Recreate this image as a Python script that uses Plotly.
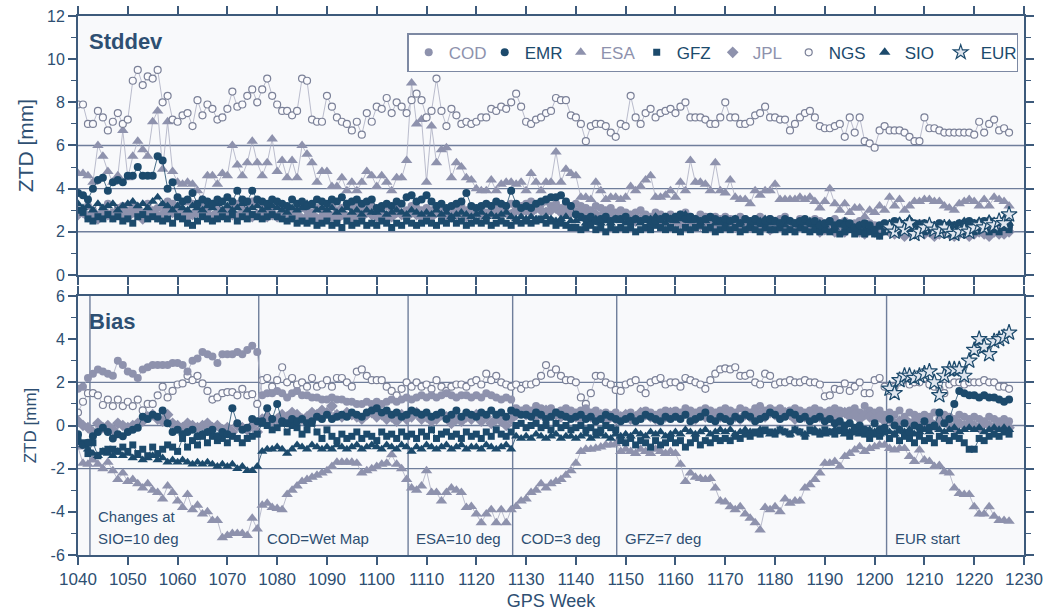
import plotly.graph_objects as go

# ---------------- data ----------------
weeks = list(range(1040, 1228))
eur_weeks = list(range(1203, 1228))
change_weeks = [1042.4, 1076.3, 1106.3, 1127.3, 1148.2, 1202.4]
change_labels = ["SIO=10 deg", "COD=Wet Map", "ESA=10 deg", "COD=3 deg", "GFZ=7 deg", "EUR start"]
std_grid = [2, 4, 6]
bias_grid = [-2, 0, 2]
x_ticks = list(range(1040, 1231, 10))
std_ticks = [0, 2, 4, 6, 8, 10, 12]
bias_ticks = [-6, -4, -2, 0, 2, 4, 6]

# ---- Stddev ----
std_ngs = [7.9,7.9,7.0,7.0,7.6,7.3,6.7,7.1,7.5,7.0,
           7.2,9.0,9.5,8.8,9.2,9.1,9.5,8.0,8.3,7.2,
           7.1,7.4,7.5,6.9,8.1,7.4,7.9,7.7,7.2,7.3,
           7.7,8.5,7.8,7.9,8.3,8.6,8.0,8.6,9.1,8.3,
           7.9,7.6,7.6,7.4,7.6,9.1,9.0,7.2,7.1,7.1,
           8.3,7.8,7.3,7.1,7.0,6.7,7.1,6.5,7.5,7.1,
           7.8,7.7,8.2,7.5,8.0,7.8,7.5,8.1,8.4,8.1,
           7.3,7.6,9.1,7.6,6.9,7.7,7.4,7.0,7.1,7.0,
           7.1,7.3,7.3,7.7,7.6,7.8,7.7,8.0,8.4,7.8,
           7.1,7.0,7.2,7.3,7.5,7.6,8.2,8.1,8.1,7.4,
           7.3,7.0,6.2,6.9,7.0,7.0,6.9,6.6,6.4,7.0,
           6.9,8.3,7.3,7.0,7.5,7.7,7.3,7.5,7.6,7.7,
           7.5,7.8,8.0,7.3,7.3,7.3,7.2,7.0,7.0,7.3,
           8.0,7.3,7.3,7.0,7.0,7.1,7.4,7.5,7.8,7.3,
           7.3,7.2,7.2,6.7,7.0,7.3,7.5,7.6,7.3,6.9,
           6.8,6.8,6.9,7.0,6.4,7.3,6.6,7.3,6.2,6.1,
           5.9,6.7,6.9,6.7,6.7,6.7,6.6,6.4,6.2,6.2,
           7.3,6.8,6.8,6.7,6.6,6.6,6.6,6.6,6.6,6.6,
           6.5,7.1,6.6,7.0,7.2,6.7,6.8,6.6]
std_esa = [4.7,4.7,4.6,4.3,6.0,5.5,4.8,4.3,4.6,6.7,
           4.5,5.5,6.2,5.8,5.5,7.1,7.6,4.9,7.1,4.8,
           4.3,4.2,4.3,4.2,3.9,3.5,4.6,4.6,4.2,4.7,
           4.6,6.0,5.1,4.6,5.2,6.2,5.2,4.6,5.2,6.3,
           4.8,5.3,4.5,5.3,4.5,6.0,5.6,5.2,4.3,4.8,
           4.8,4.1,4.1,4.5,3.9,4.3,3.9,4.3,4.8,4.6,
           4.1,4.6,4.3,3.9,4.5,4.5,5.3,8.9,7.0,7.2,
           4.3,6.9,5.2,5.8,5.9,4.5,5.2,5.0,4.5,4.4,
           4.0,3.9,3.9,4.4,3.9,4.2,4.3,4.3,4.2,4.3,
           3.9,4.7,4.3,3.9,4.3,4.3,5.7,4.3,4.9,4.7,
           4.6,3.6,3.6,3.5,4.3,3.9,3.5,3.6,3.6,3.5,
           3.6,4.1,3.9,4.1,4.4,4.6,3.6,3.6,3.7,3.9,
           3.6,4.3,3.9,5.3,4.3,4.3,4.2,3.9,5.2,3.9,
           3.8,4.4,3.6,3.5,3.5,3.3,3.9,3.7,3.9,3.9,
           4.2,3.5,3.5,3.5,3.5,3.6,3.5,3.6,3.4,3.1,
           3.4,4.0,3.3,3.0,3.3,2.9,3.1,3.1,2.7,3.0,
           2.9,3.2,3.0,3.6,3.2,3.5,3.0,3.2,3.4,3.4,
           3.5,3.5,3.4,3.4,3.2,3.1,3.0,3.3,3.4,3.5,
           3.4,3.2,3.5,3.2,3.6,3.5,3.4,3.2]
std_emr = [3.8,3.7,3.5,4.0,4.4,4.5,3.9,4.3,4.4,4.3,
           4.6,4.6,5.0,4.6,4.6,4.6,5.5,5.3,4.0,4.3,
           3.6,3.4,3.5,3.8,3.3,3.5,3.4,3.3,3.5,3.4,
           3.6,3.4,3.9,3.5,3.4,3.9,3.5,3.4,3.3,3.5,
           3.4,3.3,3.2,3.5,3.3,3.4,3.2,3.3,3.5,3.4,
           3.3,3.5,3.4,3.6,3.3,3.4,3.5,3.3,3.4,3.5,
           3.1,3.2,3.3,3.2,3.4,3.3,3.6,3.7,3.4,3.5,
           3.7,3.4,3.2,3.3,3.1,3.2,3.3,3.4,3.8,3.2,
           3.1,3.2,3.3,3.2,3.4,3.3,3.2,3.9,3.3,3.1,
           3.2,3.1,3.3,3.4,3.5,3.6,3.6,3.7,3.4,3.2,
           2.8,2.7,2.6,2.7,2.5,2.6,2.7,2.5,2.6,2.6,
           2.7,2.5,2.6,2.5,2.6,2.4,2.5,2.6,2.7,2.6,
           2.7,2.8,2.6,2.7,2.6,2.5,2.6,2.7,2.6,2.5,
           2.6,2.5,2.6,2.4,2.6,2.5,2.6,2.4,2.5,2.6,
           2.5,2.4,2.6,2.5,2.4,2.5,2.6,2.4,2.5,2.3,
           2.4,2.5,2.3,2.4,2.3,2.4,2.2,2.3,2.4,2.3,
           2.1,2.3,2.4,2.3,2.5,2.4,2.3,2.5,2.4,2.3,
           2.4,2.3,2.2,2.4,2.3,2.2,2.3,2.4,2.3,2.5,
           2.4,2.3,2.5,2.4,2.3,2.5,2.4,2.3]
std_gfz = [3.0,2.9,2.6,2.5,2.7,2.6,2.8,2.6,2.7,2.5,
           2.6,2.4,2.7,2.8,2.6,2.7,2.6,2.5,2.6,2.4,
           2.7,2.6,2.4,2.3,2.5,2.7,2.6,2.5,2.6,2.7,
           2.6,2.8,2.5,2.7,2.6,2.8,2.7,2.6,2.7,2.8,
           2.7,2.6,2.5,2.6,2.4,2.5,2.4,2.5,2.3,2.4,
           2.5,2.3,2.4,2.2,2.5,2.3,2.4,2.5,2.3,2.4,
           2.3,2.5,2.4,2.2,2.4,2.3,2.5,2.4,2.3,2.4,
           2.5,2.4,2.3,2.5,2.4,2.6,2.4,2.5,2.3,2.4,
           2.5,2.4,2.5,2.3,2.4,2.5,2.4,2.3,2.5,2.4,
           2.5,2.4,2.5,2.6,2.4,2.5,2.3,2.4,2.3,2.2,
           2.2,2.1,2.2,2.3,2.1,2.2,2.0,2.2,2.1,2.2,
           2.1,2.2,2.0,2.1,2.2,2.1,2.3,2.2,2.1,2.2,
           2.1,2.0,2.2,2.1,2.2,2.3,2.1,2.2,2.0,2.1,
           2.2,2.1,2.2,2.0,2.1,2.2,2.1,2.0,2.2,2.1,
           2.1,2.2,2.0,2.1,2.0,2.2,2.1,2.0,2.1,2.0,
           2.1,2.0,2.1,1.9,2.0,2.1,1.9,2.0,1.9,2.0,
           1.9,1.8,2.0,2.1,2.2,2.0,2.1,2.2,2.0,2.1,
           2.0,2.1,2.2,2.0,2.1,1.9,2.0,2.1,2.0,2.1,
           2.0,2.1,2.2,2.0,2.1,2.0,2.2,2.1]
std_sio = [3.3,3.1,3.2,3.0,3.3,3.1,3.2,3.3,3.0,3.2,
           3.3,3.4,3.2,3.3,3.1,3.4,3.6,3.3,3.2,3.0,
           3.2,3.1,3.0,3.2,3.1,3.0,3.2,3.1,3.3,3.0,
           3.2,3.0,3.1,3.3,3.0,3.1,3.2,3.0,3.1,3.2,
           3.1,3.0,2.9,3.1,3.0,3.1,3.3,3.2,3.0,3.1,
           3.0,3.1,2.9,3.0,3.1,2.9,3.0,2.8,3.0,2.9,
           2.9,3.0,2.8,2.9,3.0,2.9,2.8,3.0,2.9,2.8,
           2.9,2.8,3.0,2.8,2.9,2.7,2.8,2.9,2.8,2.7,
           2.8,2.9,2.7,2.8,2.7,2.8,2.9,2.7,2.6,2.7,
           2.6,2.7,2.6,2.5,2.7,2.6,2.5,2.6,2.7,2.5,
           2.5,2.6,2.4,2.5,2.6,2.4,2.5,2.4,2.6,2.5,
           2.4,2.5,2.6,2.4,2.5,2.6,2.7,2.5,2.4,2.6,
           2.5,2.6,2.8,2.5,2.6,2.4,2.5,2.6,2.4,2.5,
           2.4,2.5,2.6,2.4,2.5,2.3,2.4,2.5,2.6,2.4,
           2.5,2.4,2.3,2.5,2.4,2.3,2.4,2.5,2.3,2.4,
           2.3,2.4,2.2,2.3,2.5,2.3,2.2,2.3,2.1,2.2,
           2.0,2.2,2.3,2.4,2.3,2.5,2.4,2.6,2.3,2.4,
           2.3,2.4,2.3,2.2,2.3,2.4,2.3,2.4,2.5,2.3,
           2.4,2.5,2.4,2.6,2.4,2.5,2.6,2.4]
std_cod = [3.0,2.9,3.2,3.0,2.8,3.1,3.3,2.9,3.1,3.2,
           3.0,3.2,3.1,2.9,3.3,3.0,3.1,3.2,3.4,3.3,
           3.2,3.0,3.4,3.3,3.1,3.2,3.0,3.3,3.1,3.0,
           3.1,3.2,3.3,3.2,3.1,3.4,3.3,3.2,3.0,3.1,
           3.2,3.0,3.1,2.9,3.0,3.1,3.0,2.9,3.1,3.0,
           3.1,3.2,3.0,3.1,3.3,3.1,3.2,3.0,3.1,3.2,
           3.0,3.1,3.2,3.0,3.1,2.9,3.0,3.2,3.1,3.0,
           3.1,3.0,3.2,3.1,3.0,2.9,3.1,3.2,3.0,3.1,
           3.0,3.1,2.9,3.2,3.1,3.0,3.2,3.3,3.1,3.2,
           3.3,3.4,3.2,3.3,3.4,3.2,3.3,3.1,3.3,3.2,
           3.3,3.2,3.1,3.0,3.2,3.1,3.0,3.1,2.9,3.0,
           2.9,2.8,2.9,3.0,2.8,2.7,2.9,2.8,2.7,2.8,
           2.7,2.8,2.9,2.7,2.6,2.8,2.7,2.6,2.7,2.6,
           2.7,2.6,2.5,2.7,2.6,2.5,2.6,2.7,2.5,2.6,
           2.5,2.6,2.7,2.5,2.4,2.6,2.5,2.4,2.6,2.5,
           2.4,2.5,2.6,2.4,2.5,2.3,2.4,2.5,2.3,2.4,
           2.3,2.2,2.4,2.3,2.2,2.4,2.3,2.2,2.3,2.4,
           2.3,2.2,2.3,2.4,2.2,2.3,2.2,2.3,2.4,2.2,
           2.3,2.2,2.3,2.2,2.1,2.3,2.2,2.2]
std_jpl = [2.8,2.9,2.7,2.8,2.6,2.9,2.8,2.7,2.9,2.8,
           2.7,2.9,2.8,2.6,2.8,2.9,2.7,2.8,3.0,2.9,
           2.8,2.9,2.7,2.8,2.9,3.0,2.8,2.7,2.9,2.8,
           2.9,2.8,2.7,2.9,2.8,2.7,2.8,2.9,2.7,2.8,
           2.7,2.8,2.9,2.7,2.8,2.6,2.7,2.8,2.6,2.7,
           2.8,2.7,2.6,2.8,2.7,2.6,2.8,2.7,2.9,2.8,
           2.7,2.8,2.6,2.7,2.9,2.8,2.7,2.9,2.8,2.7,
           2.8,2.7,2.9,2.8,2.6,2.7,2.8,2.9,2.7,2.8,
           2.9,2.8,2.7,2.9,3.0,2.8,2.9,2.8,3.0,2.9,
           3.0,2.9,3.1,3.0,2.9,3.0,3.1,2.9,3.0,2.9,
           2.9,3.0,2.8,2.9,2.8,2.7,2.9,2.8,2.7,2.8,
           2.6,2.7,2.5,2.6,2.7,2.5,2.6,2.4,2.5,2.6,
           2.5,2.4,2.6,2.5,2.4,2.3,2.5,2.4,2.3,2.4,
           2.3,2.4,2.2,2.3,2.4,2.2,2.3,2.2,2.3,2.1,
           2.2,2.3,2.1,2.2,2.1,2.3,2.2,2.1,2.2,2.0,
           2.1,2.2,2.0,2.1,2.0,2.2,2.1,2.0,1.9,2.1,
           2.0,1.9,2.1,2.0,1.9,2.0,1.8,2.0,1.9,2.0,
           1.9,2.0,1.8,1.9,2.0,1.9,1.8,1.9,2.0,1.8,
           1.9,2.0,1.9,1.8,2.0,1.9,1.9,2.0]
std_eur = [2.2,2.0,2.3,2.1,2.4,1.9,2.0,2.2,2.3,2.1,
           2.0,2.2,2.0,1.9,2.0,2.1,2.0,2.2,2.3,2.2,
           2.4,2.3,2.5,2.4,2.8]

# ---- Bias ----
bias_ngs = [0.6,1.1,1.5,1.5,1.4,0.95,1.2,0.9,1.2,0.9,
            1.1,0.9,1.2,0.7,1.0,1.0,1.4,1.8,1.3,1.6,
            1.9,1.95,2.3,2.1,2.3,1.95,1.6,1.2,1.3,1.5,
            1.55,1.55,1.4,1.7,1.4,1.45,1.0,2.1,2.2,1.8,
            2.1,2.7,2.0,2.2,1.9,2.0,1.8,2.2,1.8,1.9,
            2.1,1.8,2.2,2.2,2.0,1.8,2.5,2.6,2.3,2.1,
            2.1,2.1,1.8,1.6,1.4,1.7,2.0,1.8,2.0,1.8,
            1.9,1.7,2.1,1.8,1.6,1.8,1.9,1.9,1.8,2.0,
            2.1,1.9,2.4,2.1,2.3,2.0,1.9,1.8,1.9,1.7,
            1.9,1.9,2.0,2.3,2.8,2.4,2.6,2.3,2.1,2.1,
            2.0,1.3,1.0,1.5,2.3,2.3,2.0,1.9,1.65,1.6,
            1.9,2.0,2.1,1.7,1.5,2.0,2.1,2.2,1.9,2.0,
            2.0,1.8,2.2,2.1,2.0,1.9,1.7,2.1,2.4,2.6,
            2.65,2.6,2.7,2.3,2.3,2.4,2.0,1.9,2.4,2.3,
            1.9,2.0,2.0,2.1,2.0,2.0,2.1,2.0,2.0,1.9,
            1.35,1.4,1.7,1.65,1.95,1.6,1.8,2.0,1.5,1.5,
            2.1,2.2,1.8,1.6,1.8,2.0,2.1,1.9,2.0,2.0,
            2.2,1.9,1.8,1.7,1.5,1.9,2.0,2.0,1.9,2.0,
            2.0,2.0,2.1,2.0,2.0,1.8,1.8,1.7]
bias_esa = [-1.0,-1.75,-1.8,-1.6,-1.8,-2.0,-1.7,-2.1,-2.5,-2.2,
            -2.6,-2.5,-2.7,-2.9,-2.7,-3.0,-3.1,-3.4,-2.8,-3.1,
            -3.5,-3.8,-3.2,-3.9,-3.7,-4.1,-4.0,-4.4,-4.4,-5.2,
            -5.1,-5.0,-5.0,-5.0,-5.1,-4.3,-4.8,-3.7,-3.6,-3.8,
            -3.85,-3.9,-3.2,-3.0,-2.8,-2.6,-2.5,-2.4,-2.3,-2.2,
            -2.1,-1.9,-1.7,-1.7,-1.7,-1.7,-1.75,-2.2,-2.1,-2.0,
            -1.9,-1.8,-1.75,-1.36,-1.8,-2.0,-2.5,-2.9,-3.0,-2.8,
            -2.1,-3.1,-3.1,-3.5,-3.1,-2.9,-3.0,-3.1,-3.8,-3.75,
            -4.1,-4.5,-4.1,-3.9,-4.5,-3.9,-4.5,-3.9,-3.75,-3.5,
            -3.4,-3.1,-3.0,-2.7,-2.9,-2.7,-2.6,-2.5,-2.3,-2.1,
            -1.75,-1.2,-1.1,-1.1,-1.05,-1.0,-0.9,-0.9,-0.85,-1.2,
            -1.1,-1.2,-1.3,-1.1,-1.2,-1.3,-1.1,-1.2,-1.3,-1.2,
            -1.3,-1.8,-2.6,-2.2,-2.4,-2.45,-2.5,-2.45,-2.9,-3.5,
            -3.55,-3.76,-3.9,-3.76,-4.1,-4.3,-4.5,-4.84,-3.8,-3.9,
            -3.76,-4.0,-3.4,-3.6,-3.5,-3.5,-2.9,-2.75,-2.5,-2.2,
            -1.75,-1.75,-1.67,-1.9,-1.44,-1.3,-1.14,-0.98,-1.2,-1.06,
            -0.98,-0.9,-0.9,-1.06,-1.14,-1.06,-1.06,-1.44,-1.67,-1.14,
            -1.6,-1.67,-1.9,-1.85,-2.14,-2.2,-2.9,-3.15,-3.2,-3.2,
            -3.76,-4.1,-4.1,-3.76,-4.2,-4.4,-4.4,-4.44]
bias_cod = [1.7,1.8,2.2,2.4,2.6,2.5,2.4,2.3,3.0,2.8,
            2.5,2.4,2.2,2.6,2.7,2.8,2.8,2.8,2.8,2.9,
            2.9,2.8,2.5,3.0,3.1,3.4,3.3,3.2,2.9,3.3,
            3.3,3.3,3.4,3.3,3.5,3.7,3.4,1.4,1.5,1.5,
            1.6,1.5,1.3,1.5,1.6,1.4,1.4,1.3,1.3,1.2,
            1.2,1.3,1.2,1.2,1.1,1.1,1.0,1.0,1.1,1.0,
            1.1,1.0,1.1,1.2,1.1,1.2,1.3,1.2,1.3,1.4,
            1.3,1.4,1.3,1.4,1.5,1.4,1.3,1.4,1.4,1.3,
            1.4,1.3,1.5,1.4,1.3,1.2,1.3,1.2,0.8,0.7,
            0.8,0.7,0.9,0.8,0.7,0.8,0.6,0.7,0.8,0.7,
            0.6,0.7,0.8,0.6,0.7,0.5,0.6,0.5,0.6,0.4,
            0.5,0.6,0.4,0.5,0.7,0.6,0.5,0.6,0.7,0.6,
            0.7,0.6,0.8,0.7,0.6,0.7,0.8,0.7,0.6,0.7,
            0.8,0.7,0.6,0.8,0.7,0.6,0.8,0.9,0.7,0.8,
            0.7,0.8,0.6,0.7,0.8,0.7,0.6,0.7,0.8,0.7,
            0.6,0.7,0.8,0.7,0.6,0.7,0.8,0.6,0.9,0.7,
            0.6,0.7,0.5,0.6,0.5,0.7,0.4,0.6,0.5,0.4,
            0.5,0.4,0.6,0.3,0.5,0.4,0.3,0.5,0.4,0.3,
            0.4,0.3,0.2,0.4,0.3,0.2,0.3,0.2]
bias_jpl = [0.2,0.0,-0.1,-0.3,0.1,-0.1,0.0,-0.2,0.1,0.0,
            -0.1,0.0,0.1,0.2,0.4,0.5,0.3,0.2,0.5,0.1,
            0.0,-0.1,0.1,0.0,-0.1,0.0,0.1,-0.1,0.0,-0.2,
            -0.1,-0.3,0.0,-0.1,-0.2,0.0,-0.3,0.3,0.4,0.2,
            0.3,0.5,0.4,0.6,0.5,0.3,0.4,0.6,0.5,0.7,
            0.6,0.9,0.5,0.4,0.6,0.5,0.4,0.3,0.5,0.6,
            0.4,0.5,0.3,0.4,0.2,0.5,0.3,0.4,0.6,0.3,
            0.4,0.2,0.3,0.5,0.4,0.1,0.3,0.2,0.4,0.3,
            0.5,0.2,0.4,0.1,0.3,0.2,0.0,0.3,0.5,0.6,
            0.5,0.6,0.4,0.5,0.7,0.6,0.5,0.4,0.6,0.5,
            0.4,0.3,0.5,0.4,0.3,0.5,0.2,0.4,0.3,0.4,
            0.5,0.3,0.4,0.6,0.5,0.4,0.3,0.5,0.4,0.6,
            0.5,0.4,0.6,0.5,0.3,0.5,0.4,0.6,0.5,0.4,
            0.5,0.6,0.4,0.3,0.5,0.4,0.6,0.5,0.4,0.6,
            0.5,0.4,0.6,0.5,0.3,0.5,0.4,0.6,0.5,0.4,
            0.5,0.6,0.4,0.5,0.6,0.4,0.5,0.3,0.5,0.4,
            0.3,0.4,0.2,0.3,0.1,0.2,0.3,0.1,0.2,0.0,
            0.1,0.2,0.0,0.1,0.2,0.0,-0.1,0.1,0.0,0.1,
            0.0,-0.1,0.1,0.0,-0.1,0.0,0.1,-0.1]
bias_emr = [-0.4,-0.9,-0.8,-0.5,-0.3,-0.1,-0.3,-0.6,-0.4,-0.5,
            -0.3,-0.2,-0.1,0.4,0.3,0.5,0.4,0.7,0.1,-0.3,
            -0.2,-0.4,-0.3,-0.2,-0.5,-0.4,-0.3,-0.2,-0.5,-0.3,
            -0.4,0.8,0.1,-0.2,-0.1,0.3,0.2,0.2,0.8,0.3,
            1.0,0.2,0.1,0.3,0.2,0.3,0.1,0.2,0.4,0.3,
            0.5,0.3,0.4,0.5,0.4,0.6,0.5,0.4,0.6,0.7,
            0.8,0.6,0.7,0.5,0.6,0.4,0.5,0.7,0.6,0.5,
            0.6,0.4,0.5,0.6,0.3,0.5,0.7,0.4,0.6,0.5,
            0.4,0.6,0.5,0.7,0.5,0.6,0.4,0.7,0.6,0.5,
            0.5,0.4,0.6,0.5,0.3,0.4,0.6,0.5,0.4,0.3,
            0.4,0.5,0.3,0.4,0.2,0.3,0.5,0.4,0.3,0.2,
            0.3,0.4,0.2,0.3,0.5,0.4,0.3,0.2,0.4,0.3,
            0.4,0.3,0.5,0.2,0.3,0.4,0.6,0.3,0.2,0.4,
            0.3,0.2,0.4,0.3,0.5,0.4,0.2,0.3,0.4,0.6,
            0.5,0.3,0.4,0.6,0.5,0.3,0.4,0.2,0.3,0.4,
            0.2,0.3,0.1,0.2,0.0,0.1,-0.1,0.0,-0.2,-0.4,
            0.1,-0.2,-0.1,0.3,0.0,-0.2,0.1,-0.3,0.0,-0.1,
            0.2,-0.1,0.0,0.6,0.1,0.3,1.0,1.6,1.5,1.4,
            1.4,1.3,1.4,1.3,1.3,1.2,1.1,1.2]
bias_gfz = [-0.6,-0.8,-1.3,-0.8,-1.4,-1.2,-1.1,-1.1,-1.2,-1.0,
            -1.2,-0.9,-1.3,-1.1,-1.4,-1.0,-1.3,-1.1,-0.9,-1.0,
            -1.2,-0.6,-1.0,-0.7,-0.9,-0.5,-0.8,-0.5,-0.7,-0.6,
            -0.8,-0.5,-0.6,-0.8,-0.6,-0.5,-0.4,0.1,0.0,-0.2,
            -0.1,0.1,-0.3,0.0,-0.1,-0.4,-0.2,0.1,-0.3,-0.6,
            -0.2,-0.5,-0.7,-0.4,-0.6,-0.5,-0.3,-0.6,-0.4,-0.5,
            -0.7,-0.3,-0.5,-0.4,-0.6,-0.3,-0.5,-0.4,-0.6,-0.3,
            -0.5,-0.2,-0.6,-0.4,-0.3,-0.5,-0.4,-0.6,-0.3,-0.5,
            -0.4,-0.6,-0.3,-0.5,-0.2,-0.4,-0.5,-0.3,0.0,0.1,
            -0.1,0.0,0.1,-0.1,0.0,-0.2,0.1,-0.1,0.0,-0.2,
            -0.1,0.0,-0.2,-0.1,-0.3,-0.2,0.0,-0.1,-0.2,-0.7,
            -0.8,-0.6,-0.9,-0.7,-0.8,-1.0,-0.7,-0.9,-0.8,-0.6,
            -0.8,-0.7,-1.0,-0.8,-0.6,-0.9,-0.7,-0.8,-0.6,-0.7,
            -0.6,-0.7,-0.5,-0.6,-0.4,-0.5,-0.3,-0.4,-0.2,-0.3,
            -0.4,-0.2,-0.3,-0.4,-0.2,-0.3,-0.5,-0.2,-0.3,-0.4,
            -0.2,-0.3,-0.4,-0.2,-0.3,-0.5,-0.3,-0.2,-0.4,-0.6,
            -0.4,-0.5,-0.3,-0.6,-0.4,-0.7,-0.5,-0.6,-0.8,-0.5,
            -0.7,-0.6,-0.8,-0.5,-0.6,-0.7,-0.5,-0.6,-0.8,-1.1,
            -1.1,-0.6,-0.7,-0.5,-0.4,-0.5,-0.3,-0.4]
bias_sio = [-0.8,-0.9,-1.1,-1.3,-1.4,-1.2,-1.3,-1.4,-1.2,-1.4,
            -1.3,-1.5,-1.4,-1.6,-1.5,-1.4,-1.6,-1.5,-1.7,-1.6,
            -1.7,-1.6,-1.7,-1.8,-1.7,-1.8,-1.7,-1.8,-1.9,-1.8,
            -1.9,-1.8,-2.0,-1.9,-2.1,-2.1,-1.9,-1.2,-1.1,-1.1,
            -1.0,-1.1,-1.3,-1.1,-0.9,-1.0,-1.1,-0.9,-1.0,-1.1,
            -1.0,-1.1,-0.9,-1.0,-1.1,-1.0,-0.9,-1.1,-1.0,-0.9,
            -1.0,-1.1,-0.9,-1.0,-1.1,-0.9,-1.0,-1.2,-1.0,-1.1,
            -0.9,-1.0,-1.1,-1.0,-0.9,-1.1,-1.0,-0.9,-1.1,-1.0,
            -1.0,-1.1,-0.9,-1.0,-1.1,-1.0,-0.9,-1.1,-0.5,-0.6,
            -0.5,-0.6,-0.4,-0.5,-0.6,-0.5,-0.4,-0.6,-0.5,-0.5,
            -0.6,-0.5,-0.4,-0.6,-0.5,-0.4,-0.5,-0.6,-0.4,-0.5,
            -0.4,-0.5,-0.3,-0.4,-0.5,-0.3,-0.4,-0.3,-0.5,-0.4,
            -0.3,-0.4,-0.2,-0.3,-0.4,-0.3,-0.2,-0.4,-0.3,-0.2,
            -0.3,-0.2,-0.4,-0.3,-0.2,-0.3,-0.4,-0.2,-0.3,-0.4,
            -0.3,-0.2,-0.3,-0.4,-0.2,-0.3,-0.4,-0.3,-0.2,-0.3,
            -0.4,-0.3,-0.2,-0.3,-0.4,-0.3,-0.2,-0.4,-0.3,-0.2,
            -0.3,-0.4,-0.2,-0.3,-0.4,-0.2,-0.3,-0.2,-0.4,-0.3,
            -0.2,-0.3,-0.1,-0.2,-0.3,-0.2,-0.1,-0.3,-0.2,-0.1,
            -0.2,-0.1,-0.3,-0.2,-0.1,-0.2,-0.1,-0.2]
bias_eur = [1.7,1.5,2.1,2.3,2.3,2.2,2.3,2.4,2.5,2.0,
            1.4,2.3,2.6,2.6,2.6,2.3,3.0,3.5,4.0,3.65,
            3.3,3.9,4.0,4.1,4.3]

# ---------------- styling ----------------
DARK = "#1c4a6c"
LIGHT = "#8e92ad"
LIGHT_LINE = "#a9acc0"
FRAME = "#3d5a7b"
GRID = "#6f7e9b"
TXT = "#2e4f72"
FONT = "Liberation Sans, Arial, sans-serif"

series = {
    "COD": dict(std=std_cod, bias=bias_cod, color=LIGHT, line=LIGHT_LINE, symbol="circle", size=8),
    "EMR": dict(std=std_emr, bias=bias_emr, color=DARK, line=DARK, symbol="circle", size=8),
    "ESA": dict(std=std_esa, bias=bias_esa, color=LIGHT, line=LIGHT_LINE, symbol="triangle-up", size=10),
    "GFZ": dict(std=std_gfz, bias=bias_gfz, color=DARK, line=DARK, symbol="square", size=7),
    "JPL": dict(std=std_jpl, bias=bias_jpl, color=LIGHT, line=LIGHT_LINE, symbol="diamond", size=9),
    "NGS": dict(std=std_ngs, bias=bias_ngs, color="#fbfbfd", line=LIGHT_LINE, symbol="circle", size=7,
                edge="#7b8198"),
    "SIO": dict(std=std_sio, bias=bias_sio, color=DARK, line=DARK, symbol="triangle-up", size=9),
    "EUR": dict(std=std_eur, bias=bias_eur, color="#dfe5ee", line=DARK, symbol="star", size=12,
                edge=DARK),
}
legend_order = ["COD", "EMR", "ESA", "GFZ", "JPL", "NGS", "SIO", "EUR"]
legend_sizes = {"COD": 8, "EMR": 8, "ESA": 10, "GFZ": 7, "JPL": 9, "NGS": 7, "SIO": 10, "EUR": 11}
draw_order = ["ESA", "NGS", "COD", "JPL", "SIO", "GFZ", "EMR", "EUR"]

fig = go.Figure()

for name in draw_order:
    s = series[name]
    xs = eur_weeks if name == "EUR" else weeks
    mk = dict(symbol=s["symbol"], size=s["size"], color=s["color"],
              line=dict(width=1.2 if "edge" in s else 0, color=s.get("edge", s["color"])))
    for key, xa, ya in (("std", "x2", "y2"), ("bias", "x", "y")):
        fig.add_trace(go.Scatter(
            x=xs, y=s[key], xaxis=xa, yaxis=ya, mode="lines+markers",
            line=dict(color=s["line"], width=0.8), marker=mk,
            showlegend=False, hoverinfo="skip"))

# legend-only entries (markers only, coloured names)
for i, name in enumerate(legend_order):
    s = series[name]
    tcol = LIGHT if s["color"] == LIGHT else DARK
    fig.add_trace(go.Scatter(
        x=[None], y=[None], xaxis="x2", yaxis="y2", mode="markers",
        name=f"<span style='color:{tcol}'>{name}</span>",
        marker=dict(symbol=s["symbol"], size=legend_sizes[name], color=s["color"],
                    line=dict(width=1.2 if "edge" in s else 0, color=s.get("edge", s["color"]))),
        legendrank=i + 1, showlegend=True))

shapes = []
for v in std_grid:
    shapes.append(dict(type="line", xref="x2 domain", yref="y2", x0=0, x1=1, y0=v, y1=v,
                       line=dict(color=GRID, width=1.4), layer="below"))
for v in bias_grid:
    shapes.append(dict(type="line", xref="x domain", yref="y", x0=0, x1=1, y0=v, y1=v,
                       line=dict(color=GRID, width=1.4), layer="below"))
for w in change_weeks:
    shapes.append(dict(type="line", xref="x", yref="y domain", x0=w, x1=w, y0=0, y1=1,
                       line=dict(color=GRID, width=1.4), layer="below"))

annotations = [
    dict(text="<b>Stddev</b>", xref="x2 domain", yref="y2 domain", x=0.01, y=0.9,
         xanchor="left", yanchor="middle", showarrow=False, font=dict(size=22, color=TXT)),
    dict(text="<b>Bias</b>", xref="x domain", yref="y domain", x=0.01, y=0.9,
         xanchor="left", yanchor="middle", showarrow=False, font=dict(size=22, color=TXT)),
    dict(text="Changes at", xref="x", yref="y", x=change_weeks[0], y=-4.2, xshift=6,
         xanchor="left", yanchor="middle", showarrow=False, font=dict(size=15, color=TXT)),
]
for w, lab in zip(change_weeks, change_labels):
    annotations.append(dict(text=lab, xref="x", yref="y", x=w, y=-5.25, xshift=6,
                            xanchor="left", yanchor="middle", showarrow=False,
                            font=dict(size=15, color=TXT)))

axis_common = dict(showline=True, linewidth=2, linecolor=FRAME, mirror="ticks",
                   ticks="outside", ticklen=8, tickwidth=1.5, tickcolor=FRAME,
                   showgrid=False, zeroline=False, automargin=False)

fig.update_layout(
    width=1056, height=613,
    margin=dict(l=78, r=32, t=16, b=58),
    paper_bgcolor="white", plot_bgcolor="#f8f9fb",
    font=dict(family=FONT, color=TXT),
    showlegend=True,
    legend=dict(orientation="h", x=0.348, y=0.968, xanchor="left", yanchor="top",
                bgcolor="white", bordercolor="#7d89a3", borderwidth=1.5,
                font=dict(size=17, family=FONT, color=DARK),
                itemwidth=30, entrywidth=31, entrywidthmode="pixels", traceorder="normal"),
    xaxis=dict(domain=[0, 1], anchor="y", range=[1040, 1230], tickvals=x_ticks,
               tickfont=dict(size=17, color=TXT),
               title=dict(text="GPS Week", font=dict(size=18, color=TXT), standoff=6),
               **axis_common),
    yaxis=dict(domain=[0, 0.4805], anchor="x", range=[-6, 6], tickvals=bias_ticks,
               ticktext=[str(v) for v in bias_ticks], tickfont=dict(size=16, color=TXT),
               minor=dict(dtick=1, ticklen=5, ticks="outside", tickcolor=FRAME, tickwidth=1.2),
               title=dict(text="ZTD [mm]", font=dict(size=17, color=TXT), standoff=10),
               **axis_common),
    xaxis2=dict(domain=[0, 1], anchor="y2", range=[1040, 1230], tickvals=x_ticks,
                showticklabels=False, **axis_common),
    yaxis2=dict(domain=[0.5195, 1], anchor="x2", range=[0, 12], tickvals=std_ticks,
                tickfont=dict(size=16, color=TXT),
                minor=dict(dtick=1, ticklen=5, ticks="outside", tickcolor=FRAME, tickwidth=1.2),
                title=dict(text="ZTD [mm]", font=dict(size=21, color=TXT), standoff=8),
                **axis_common),
    shapes=shapes,
    annotations=annotations,
)

fig.write_html("out.html")
